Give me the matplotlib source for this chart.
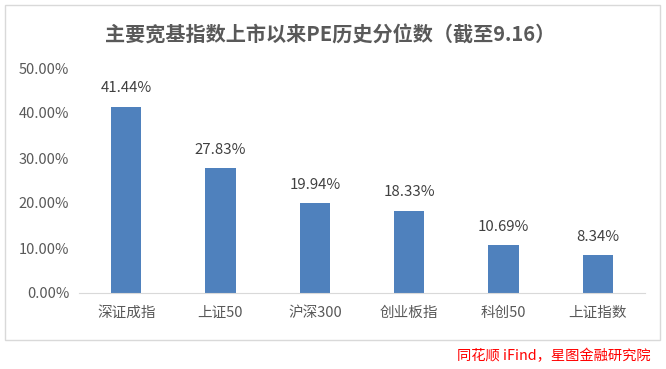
import matplotlib
matplotlib.use("Agg")
import matplotlib.pyplot as plt
from matplotlib.patches import Rectangle
from matplotlib.ticker import FuncFormatter

plt.rcParams['font.family'] = ['Noto Sans CJK SC', 'DejaVu Sans']

categories = ['深证成指', '上证50', '沪深300', '创业板指', '科创50', '上证指数']
values = [41.44, 27.83, 19.94, 18.33, 10.69, 8.34]
yticks = [0, 10, 20, 30, 40, 50]
title = '主要宽基指数上市以来PE历史分位数（截至9.16）'
source = '同花顺 iFind，星图金融研究院'

W, H = 666, 369
fig = plt.figure(figsize=(W / 100, H / 100), dpi=100)
fig.patch.set_facecolor('white')

# outer chart border
fig.patches.append(Rectangle((5 / W, 1 - 340 / H), 655 / W, 335 / H,
                             transform=fig.transFigure, fill=False,
                             edgecolor='#D9D9D9', linewidth=1.0))

ax = fig.add_axes([79 / W, 1 - 293 / H, 566 / W, 225 / H])
x = range(len(categories))
bars = ax.bar(x, values, width=0.32, color='#4F81BD', zorder=2)
ax.set_xlim(-0.5, len(categories) - 0.5)
ax.set_ylim(0, 50)
ax.set_yticks(yticks)
ax.yaxis.set_major_formatter(FuncFormatter(lambda v, p: f'{v:.2f}%'))
ax.set_xticks(list(x))
ax.set_xticklabels(categories)
for s in ['top', 'right', 'left']:
    ax.spines[s].set_visible(False)
ax.spines['bottom'].set_color('#D9D9D9')
ax.tick_params(axis='both', length=0, colors='#595959', labelsize=10.5)
ax.tick_params(axis='x', pad=9)
ax.tick_params(axis='y', pad=7)

for b, v in zip(bars, values):
    ax.annotate(f'{v:.2f}%', (b.get_x() + b.get_width() / 2, v),
                xytext=(0, 8), textcoords='offset points',
                ha='center', va='bottom', fontsize=10.8, color='#404040')

fig.text(330 / W, 1 - 35 / H, title, ha='center', va='center',
         fontsize=14.5, fontweight='bold', color='#595959')
fig.text(651 / W, 1 - 356 / H, source, ha='right', va='center',
         fontsize=10.3, style='italic', color='#FF0000')

fig.savefig('out.png', dpi=100)
